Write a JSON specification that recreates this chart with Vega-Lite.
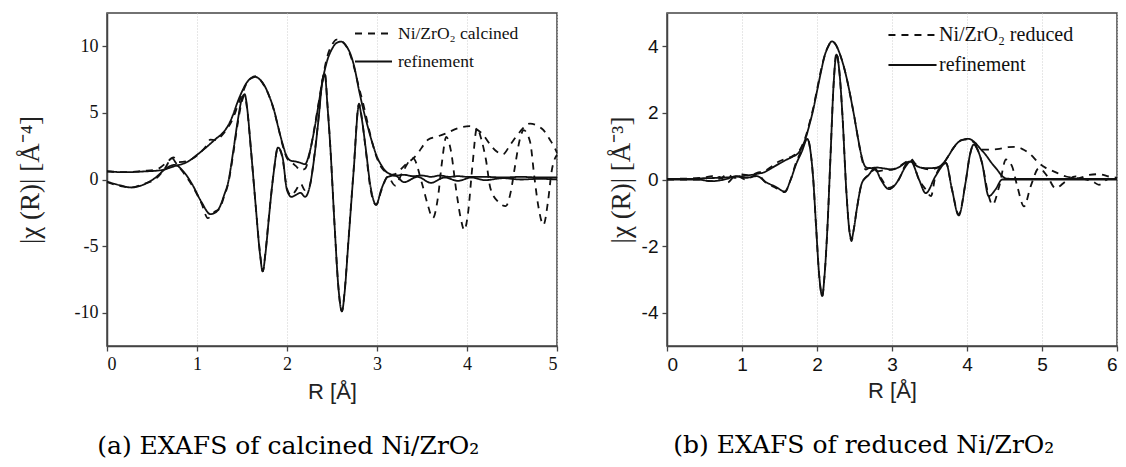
{
  "$schema": "https://vega.github.io/schema/vega-lite/v6.json",
  "background": "white",
  "padding": {"left": 15, "top": 12, "right": 0, "bottom": 4},
  "spacing": 44,
  "resolve": {"scale": {"strokeDash": "independent"}, "legend": {"strokeDash": "independent"}},
  "config": {
    "view": {"stroke": "#444", "strokeWidth": 1.5},
    "axis": {
      "domainColor": "#444", "domainWidth": 1.5, "tickColor": "#444", "tickWidth": 1.3, "tickSize": 5,
      "labelColor": "#111", "titleColor": "#222", "titleFontWeight": "normal",
      "gridColor": "#cfcfcf", "gridDash": [1, 2], "gridWidth": 1,
      "labelExpr": "toString(datum.value)"
    },
    "title": {"orient": "bottom", "frame": "bounds", "anchor": "middle", "font": "DejaVu Serif", "fontSize": 25, "fontWeight": "normal", "color": "#000", "offset": 32}
  },
  "datasets": {
    "calc": [
      {"R":0,"v":0.6,"s":"f","p":"m"},{"R":0.2,"v":0.55,"s":"f","p":"m"},{"R":0.4,"v":0.6,"s":"f","p":"m"},{"R":0.6,"v":0.7,"s":"f","p":"m"},{"R":0.75,"v":1.0,"s":"f","p":"m"},{"R":0.9,"v":1.35,"s":"f","p":"m"},{"R":1.0,"v":1.85,"s":"f","p":"m"},{"R":1.1,"v":2.4,"s":"f","p":"m"},{"R":1.2,"v":3.0,"s":"f","p":"m"},{"R":1.3,"v":3.6,"s":"f","p":"m"},{"R":1.35,"v":4.1,"s":"f","p":"m"},{"R":1.4,"v":4.85,"s":"f","p":"m"},{"R":1.45,"v":5.8,"s":"f","p":"m"},{"R":1.5,"v":6.6,"s":"f","p":"m"},{"R":1.55,"v":7.25,"s":"f","p":"m"},{"R":1.6,"v":7.6,"s":"f","p":"m"},{"R":1.65,"v":7.7,"s":"f","p":"m"},{"R":1.7,"v":7.5,"s":"f","p":"m"},{"R":1.75,"v":7.05,"s":"f","p":"m"},{"R":1.8,"v":6.3,"s":"f","p":"m"},{"R":1.85,"v":5.35,"s":"f","p":"m"},{"R":1.9,"v":4.0,"s":"f","p":"m"},{"R":1.95,"v":2.7,"s":"f","p":"m"},{"R":2.0,"v":1.7,"s":"f","p":"m"},{"R":2.05,"v":1.4,"s":"f","p":"m"},{"R":2.1,"v":1.35,"s":"f","p":"m"},{"R":2.15,"v":1.25,"s":"f","p":"m"},{"R":2.2,"v":1.15,"s":"f","p":"m"},{"R":2.25,"v":2.0,"s":"f","p":"m"},{"R":2.3,"v":3.6,"s":"f","p":"m"},{"R":2.35,"v":5.6,"s":"f","p":"m"},{"R":2.4,"v":7.6,"s":"f","p":"m"},{"R":2.45,"v":9.0,"s":"f","p":"m"},{"R":2.5,"v":9.8,"s":"f","p":"m"},{"R":2.55,"v":10.25,"s":"f","p":"m"},{"R":2.6,"v":10.35,"s":"f","p":"m"},{"R":2.65,"v":10.1,"s":"f","p":"m"},{"R":2.7,"v":9.5,"s":"f","p":"m"},{"R":2.75,"v":8.4,"s":"f","p":"m"},{"R":2.8,"v":6.7,"s":"f","p":"m"},{"R":2.85,"v":5.2,"s":"f","p":"m"},{"R":2.9,"v":3.9,"s":"f","p":"m"},{"R":2.95,"v":2.7,"s":"f","p":"m"},{"R":3.0,"v":1.7,"s":"f","p":"m"},{"R":3.05,"v":1.05,"s":"f","p":"m"},{"R":3.1,"v":0.6,"s":"f","p":"m"},{"R":3.15,"v":0.4,"s":"f","p":"m"},{"R":3.2,"v":0.3,"s":"f","p":"m"},{"R":3.3,"v":0.35,"s":"f","p":"m"},{"R":3.4,"v":0.25,"s":"f","p":"m"},{"R":3.5,"v":0.3,"s":"f","p":"m"},{"R":3.6,"v":0.2,"s":"f","p":"m"},{"R":3.7,"v":0.3,"s":"f","p":"m"},{"R":3.8,"v":0.2,"s":"f","p":"m"},{"R":3.9,"v":0.25,"s":"f","p":"m"},{"R":4.0,"v":0.2,"s":"f","p":"m"},{"R":4.2,"v":0.2,"s":"f","p":"m"},{"R":4.4,"v":0.15,"s":"f","p":"m"},{"R":4.6,"v":0.2,"s":"f","p":"m"},{"R":4.8,"v":0.15,"s":"f","p":"m"},{"R":5.0,"v":0.15,"s":"f","p":"m"},

      {"R":0,"v":-0.15,"s":"f","p":"i"},{"R":0.15,"v":-0.45,"s":"f","p":"i"},{"R":0.27,"v":-0.6,"s":"f","p":"i"},{"R":0.4,"v":-0.4,"s":"f","p":"i"},{"R":0.55,"v":0.2,"s":"f","p":"i"},{"R":0.65,"v":0.8,"s":"f","p":"i"},{"R":0.75,"v":1.1,"s":"f","p":"i"},{"R":0.85,"v":0.6,"s":"f","p":"i"},{"R":0.95,"v":-0.4,"s":"f","p":"i"},{"R":1.05,"v":-1.7,"s":"f","p":"i"},{"R":1.15,"v":-2.6,"s":"f","p":"i"},{"R":1.2,"v":-2.5,"s":"f","p":"i"},{"R":1.25,"v":-2.1,"s":"f","p":"i"},{"R":1.3,"v":-1.2,"s":"f","p":"i"},{"R":1.35,"v":-0.1,"s":"f","p":"i"},{"R":1.4,"v":2.0,"s":"f","p":"i"},{"R":1.45,"v":4.3,"s":"f","p":"i"},{"R":1.5,"v":6.1,"s":"f","p":"i"},{"R":1.53,"v":6.4,"s":"f","p":"i"},{"R":1.56,"v":5.2,"s":"f","p":"i"},{"R":1.6,"v":2.2,"s":"f","p":"i"},{"R":1.65,"v":-1.8,"s":"f","p":"i"},{"R":1.7,"v":-5.6,"s":"f","p":"i"},{"R":1.73,"v":-6.9,"s":"f","p":"i"},{"R":1.76,"v":-5.6,"s":"f","p":"i"},{"R":1.8,"v":-2.8,"s":"f","p":"i"},{"R":1.85,"v":0.4,"s":"f","p":"i"},{"R":1.9,"v":2.4,"s":"f","p":"i"},{"R":1.95,"v":1.7,"s":"f","p":"i"},{"R":2.0,"v":-0.8,"s":"f","p":"i"},{"R":2.05,"v":-1.3,"s":"f","p":"i"},{"R":2.1,"v":-1.15,"s":"f","p":"i"},{"R":2.15,"v":-1.0,"s":"f","p":"i"},{"R":2.2,"v":-1.3,"s":"f","p":"i"},{"R":2.25,"v":-0.6,"s":"f","p":"i"},{"R":2.3,"v":1.5,"s":"f","p":"i"},{"R":2.35,"v":4.5,"s":"f","p":"i"},{"R":2.39,"v":7.2,"s":"f","p":"i"},{"R":2.42,"v":7.9,"s":"f","p":"i"},{"R":2.45,"v":5.5,"s":"f","p":"i"},{"R":2.48,"v":2.6,"s":"f","p":"i"},{"R":2.53,"v":-3.6,"s":"f","p":"i"},{"R":2.57,"v":-8.0,"s":"f","p":"i"},{"R":2.61,"v":-9.9,"s":"f","p":"i"},{"R":2.64,"v":-8.5,"s":"f","p":"i"},{"R":2.68,"v":-4.9,"s":"f","p":"i"},{"R":2.74,"v":0.6,"s":"f","p":"i"},{"R":2.8,"v":5.6,"s":"f","p":"i"},{"R":2.83,"v":4.6,"s":"f","p":"i"},{"R":2.87,"v":2.6,"s":"f","p":"i"},{"R":2.93,"v":-0.6,"s":"f","p":"i"},{"R":2.99,"v":-1.9,"s":"f","p":"i"},{"R":3.05,"v":-0.7,"s":"f","p":"i"},{"R":3.12,"v":0.2,"s":"f","p":"i"},{"R":3.2,"v":0.3,"s":"f","p":"i"},{"R":3.3,"v":-0.2,"s":"f","p":"i"},{"R":3.45,"v":0.2,"s":"f","p":"i"},{"R":3.6,"v":-0.25,"s":"f","p":"i"},{"R":3.75,"v":0.15,"s":"f","p":"i"},{"R":3.9,"v":-0.1,"s":"f","p":"i"},{"R":4.05,"v":0.15,"s":"f","p":"i"},{"R":4.2,"v":-0.05,"s":"f","p":"i"},{"R":4.4,"v":0.1,"s":"f","p":"i"},{"R":4.6,"v":0.0,"s":"f","p":"i"},{"R":4.8,"v":0.05,"s":"f","p":"i"},{"R":5.0,"v":0.0,"s":"f","p":"i"},

      {"R":0,"v":0.62,"s":"d","p":"m"},{"R":0.2,"v":0.55,"s":"d","p":"m"},{"R":0.4,"v":0.65,"s":"d","p":"m"},{"R":0.55,"v":0.75,"s":"d","p":"m"},{"R":0.65,"v":1.2,"s":"d","p":"m"},{"R":0.74,"v":1.65,"s":"d","p":"m"},{"R":0.8,"v":1.3,"s":"d","p":"m"},{"R":0.9,"v":1.4,"s":"d","p":"m"},{"R":1.0,"v":1.8,"s":"d","p":"m"},{"R":1.1,"v":2.5,"s":"d","p":"m"},{"R":1.15,"v":3.0,"s":"d","p":"m"},{"R":1.2,"v":2.95,"s":"d","p":"m"},{"R":1.3,"v":3.5,"s":"d","p":"m"},{"R":1.4,"v":4.6,"s":"d","p":"m"},{"R":1.45,"v":5.5,"s":"d","p":"m"},{"R":1.5,"v":6.4,"s":"d","p":"m"},{"R":1.55,"v":7.2,"s":"d","p":"m"},{"R":1.6,"v":7.6,"s":"d","p":"m"},{"R":1.65,"v":7.75,"s":"d","p":"m"},{"R":1.7,"v":7.5,"s":"d","p":"m"},{"R":1.75,"v":7.0,"s":"d","p":"m"},{"R":1.8,"v":6.3,"s":"d","p":"m"},{"R":1.85,"v":5.3,"s":"d","p":"m"},{"R":1.9,"v":4.0,"s":"d","p":"m"},{"R":1.95,"v":2.6,"s":"d","p":"m"},{"R":2.0,"v":1.6,"s":"d","p":"m"},{"R":2.05,"v":1.3,"s":"d","p":"m"},{"R":2.1,"v":1.0,"s":"d","p":"m"},{"R":2.15,"v":0.7,"s":"d","p":"m"},{"R":2.2,"v":0.8,"s":"d","p":"m"},{"R":2.25,"v":1.9,"s":"d","p":"m"},{"R":2.3,"v":3.7,"s":"d","p":"m"},{"R":2.35,"v":5.7,"s":"d","p":"m"},{"R":2.4,"v":7.7,"s":"d","p":"m"},{"R":2.45,"v":9.3,"s":"d","p":"m"},{"R":2.5,"v":10.1,"s":"d","p":"m"},{"R":2.55,"v":10.5,"s":"d","p":"m"},{"R":2.6,"v":10.4,"s":"d","p":"m"},{"R":2.65,"v":10.1,"s":"d","p":"m"},{"R":2.7,"v":9.4,"s":"d","p":"m"},{"R":2.75,"v":8.3,"s":"d","p":"m"},{"R":2.8,"v":6.9,"s":"d","p":"m"},{"R":2.85,"v":5.6,"s":"d","p":"m"},{"R":2.9,"v":4.1,"s":"d","p":"m"},{"R":2.95,"v":2.7,"s":"d","p":"m"},{"R":3.0,"v":1.6,"s":"d","p":"m"},{"R":3.05,"v":0.9,"s":"d","p":"m"},{"R":3.1,"v":0.55,"s":"d","p":"m"},{"R":3.15,"v":0.35,"s":"d","p":"m"},{"R":3.2,"v":0.4,"s":"d","p":"m"},{"R":3.3,"v":1.0,"s":"d","p":"m"},{"R":3.44,"v":1.85,"s":"d","p":"m"},{"R":3.57,"v":3.0,"s":"d","p":"m"},{"R":3.66,"v":3.2,"s":"d","p":"m"},{"R":3.76,"v":3.45,"s":"d","p":"m"},{"R":3.92,"v":3.9,"s":"d","p":"m"},{"R":4.03,"v":4.0,"s":"d","p":"m"},{"R":4.1,"v":3.8,"s":"d","p":"m"},{"R":4.18,"v":3.35,"s":"d","p":"m"},{"R":4.26,"v":2.6,"s":"d","p":"m"},{"R":4.33,"v":2.1,"s":"d","p":"m"},{"R":4.4,"v":1.9,"s":"d","p":"m"},{"R":4.48,"v":2.6,"s":"d","p":"m"},{"R":4.59,"v":3.6,"s":"d","p":"m"},{"R":4.7,"v":4.2,"s":"d","p":"m"},{"R":4.78,"v":4.05,"s":"d","p":"m"},{"R":4.85,"v":3.7,"s":"d","p":"m"},{"R":4.92,"v":3.0,"s":"d","p":"m"},{"R":4.98,"v":2.3,"s":"d","p":"m"},{"R":5.0,"v":2.0,"s":"d","p":"m"},

      {"R":0,"v":-0.2,"s":"d","p":"i"},{"R":0.15,"v":-0.5,"s":"d","p":"i"},{"R":0.27,"v":-0.6,"s":"d","p":"i"},{"R":0.4,"v":-0.35,"s":"d","p":"i"},{"R":0.55,"v":0.1,"s":"d","p":"i"},{"R":0.65,"v":0.9,"s":"d","p":"i"},{"R":0.72,"v":1.6,"s":"d","p":"i"},{"R":0.78,"v":1.1,"s":"d","p":"i"},{"R":0.85,"v":0.5,"s":"d","p":"i"},{"R":0.95,"v":-0.5,"s":"d","p":"i"},{"R":1.05,"v":-1.8,"s":"d","p":"i"},{"R":1.12,"v":-2.9,"s":"d","p":"i"},{"R":1.2,"v":-2.4,"s":"d","p":"i"},{"R":1.25,"v":-2.2,"s":"d","p":"i"},{"R":1.3,"v":-1.3,"s":"d","p":"i"},{"R":1.35,"v":-0.2,"s":"d","p":"i"},{"R":1.4,"v":1.8,"s":"d","p":"i"},{"R":1.45,"v":4.1,"s":"d","p":"i"},{"R":1.5,"v":5.9,"s":"d","p":"i"},{"R":1.53,"v":6.3,"s":"d","p":"i"},{"R":1.56,"v":5.1,"s":"d","p":"i"},{"R":1.6,"v":2.2,"s":"d","p":"i"},{"R":1.65,"v":-1.8,"s":"d","p":"i"},{"R":1.7,"v":-5.5,"s":"d","p":"i"},{"R":1.73,"v":-6.9,"s":"d","p":"i"},{"R":1.76,"v":-5.5,"s":"d","p":"i"},{"R":1.8,"v":-2.7,"s":"d","p":"i"},{"R":1.85,"v":0.4,"s":"d","p":"i"},{"R":1.9,"v":2.4,"s":"d","p":"i"},{"R":1.95,"v":1.6,"s":"d","p":"i"},{"R":2.0,"v":-0.7,"s":"d","p":"i"},{"R":2.05,"v":-1.2,"s":"d","p":"i"},{"R":2.1,"v":-0.8,"s":"d","p":"i"},{"R":2.15,"v":-0.3,"s":"d","p":"i"},{"R":2.2,"v":-0.8,"s":"d","p":"i"},{"R":2.25,"v":-0.5,"s":"d","p":"i"},{"R":2.3,"v":1.6,"s":"d","p":"i"},{"R":2.35,"v":4.6,"s":"d","p":"i"},{"R":2.39,"v":7.3,"s":"d","p":"i"},{"R":2.42,"v":8.0,"s":"d","p":"i"},{"R":2.45,"v":5.6,"s":"d","p":"i"},{"R":2.48,"v":2.6,"s":"d","p":"i"},{"R":2.53,"v":-3.6,"s":"d","p":"i"},{"R":2.57,"v":-8.0,"s":"d","p":"i"},{"R":2.61,"v":-9.9,"s":"d","p":"i"},{"R":2.64,"v":-8.4,"s":"d","p":"i"},{"R":2.68,"v":-4.8,"s":"d","p":"i"},{"R":2.74,"v":0.7,"s":"d","p":"i"},{"R":2.8,"v":5.7,"s":"d","p":"i"},{"R":2.83,"v":4.7,"s":"d","p":"i"},{"R":2.87,"v":2.5,"s":"d","p":"i"},{"R":2.93,"v":-0.8,"s":"d","p":"i"},{"R":2.99,"v":-1.9,"s":"d","p":"i"},{"R":3.05,"v":-0.8,"s":"d","p":"i"},{"R":3.12,"v":0.2,"s":"d","p":"i"},{"R":3.2,"v":-0.45,"s":"d","p":"i"},{"R":3.28,"v":0.5,"s":"d","p":"i"},{"R":3.4,"v":1.6,"s":"d","p":"i"},{"R":3.5,"v":-0.3,"s":"d","p":"i"},{"R":3.56,"v":-1.8,"s":"d","p":"i"},{"R":3.62,"v":-2.9,"s":"d","p":"i"},{"R":3.68,"v":-1.2,"s":"d","p":"i"},{"R":3.72,"v":1.2,"s":"d","p":"i"},{"R":3.77,"v":3.2,"s":"d","p":"i"},{"R":3.82,"v":2.2,"s":"d","p":"i"},{"R":3.88,"v":-0.8,"s":"d","p":"i"},{"R":3.93,"v":-2.9,"s":"d","p":"i"},{"R":3.97,"v":-3.8,"s":"d","p":"i"},{"R":4.01,"v":-2.6,"s":"d","p":"i"},{"R":4.06,"v":1.0,"s":"d","p":"i"},{"R":4.11,"v":3.85,"s":"d","p":"i"},{"R":4.16,"v":3.0,"s":"d","p":"i"},{"R":4.21,"v":1.5,"s":"d","p":"i"},{"R":4.26,"v":-0.65,"s":"d","p":"i"},{"R":4.35,"v":-1.7,"s":"d","p":"i"},{"R":4.43,"v":-2.0,"s":"d","p":"i"},{"R":4.49,"v":-0.8,"s":"d","p":"i"},{"R":4.53,"v":0.85,"s":"d","p":"i"},{"R":4.59,"v":3.1,"s":"d","p":"i"},{"R":4.63,"v":3.7,"s":"d","p":"i"},{"R":4.7,"v":2.85,"s":"d","p":"i"},{"R":4.75,"v":0.1,"s":"d","p":"i"},{"R":4.79,"v":-1.9,"s":"d","p":"i"},{"R":4.85,"v":-3.4,"s":"d","p":"i"},{"R":4.9,"v":-1.65,"s":"d","p":"i"},{"R":4.94,"v":0.6,"s":"d","p":"i"},{"R":5.0,"v":1.85,"s":"d","p":"i"}
    ],
    "red": [
      {"R":0,"v":0.02,"s":"f","p":"m"},{"R":0.3,"v":0.02,"s":"f","p":"m"},{"R":0.5,"v":0.04,"s":"f","p":"m"},{"R":0.7,"v":0.05,"s":"f","p":"m"},{"R":0.9,"v":0.08,"s":"f","p":"m"},{"R":1.0,"v":0.1,"s":"f","p":"m"},{"R":1.1,"v":0.13,"s":"f","p":"m"},{"R":1.2,"v":0.17,"s":"f","p":"m"},{"R":1.3,"v":0.22,"s":"f","p":"m"},{"R":1.4,"v":0.35,"s":"f","p":"m"},{"R":1.5,"v":0.48,"s":"f","p":"m"},{"R":1.58,"v":0.58,"s":"f","p":"m"},{"R":1.67,"v":0.68,"s":"f","p":"m"},{"R":1.76,"v":0.82,"s":"f","p":"m"},{"R":1.85,"v":1.25,"s":"f","p":"m"},{"R":1.9,"v":1.65,"s":"f","p":"m"},{"R":1.95,"v":2.1,"s":"f","p":"m"},{"R":2.0,"v":2.65,"s":"f","p":"m"},{"R":2.05,"v":3.2,"s":"f","p":"m"},{"R":2.1,"v":3.7,"s":"f","p":"m"},{"R":2.15,"v":4.0,"s":"f","p":"m"},{"R":2.2,"v":4.15,"s":"f","p":"m"},{"R":2.25,"v":4.05,"s":"f","p":"m"},{"R":2.3,"v":3.8,"s":"f","p":"m"},{"R":2.35,"v":3.45,"s":"f","p":"m"},{"R":2.4,"v":3.0,"s":"f","p":"m"},{"R":2.45,"v":2.45,"s":"f","p":"m"},{"R":2.5,"v":1.85,"s":"f","p":"m"},{"R":2.55,"v":1.2,"s":"f","p":"m"},{"R":2.6,"v":0.65,"s":"f","p":"m"},{"R":2.65,"v":0.37,"s":"f","p":"m"},{"R":2.7,"v":0.34,"s":"f","p":"m"},{"R":2.8,"v":0.36,"s":"f","p":"m"},{"R":2.9,"v":0.33,"s":"f","p":"m"},{"R":3.0,"v":0.3,"s":"f","p":"m"},{"R":3.1,"v":0.38,"s":"f","p":"m"},{"R":3.18,"v":0.5,"s":"f","p":"m"},{"R":3.25,"v":0.54,"s":"f","p":"m"},{"R":3.32,"v":0.42,"s":"f","p":"m"},{"R":3.4,"v":0.35,"s":"f","p":"m"},{"R":3.5,"v":0.34,"s":"f","p":"m"},{"R":3.6,"v":0.36,"s":"f","p":"m"},{"R":3.68,"v":0.48,"s":"f","p":"m"},{"R":3.75,"v":0.7,"s":"f","p":"m"},{"R":3.82,"v":0.95,"s":"f","p":"m"},{"R":3.9,"v":1.15,"s":"f","p":"m"},{"R":3.97,"v":1.21,"s":"f","p":"m"},{"R":4.02,"v":1.22,"s":"f","p":"m"},{"R":4.1,"v":1.12,"s":"f","p":"m"},{"R":4.18,"v":0.92,"s":"f","p":"m"},{"R":4.25,"v":0.74,"s":"f","p":"m"},{"R":4.32,"v":0.52,"s":"f","p":"m"},{"R":4.4,"v":0.3,"s":"f","p":"m"},{"R":4.47,"v":0.1,"s":"f","p":"m"},{"R":4.52,"v":0.03,"s":"f","p":"m"},{"R":4.6,"v":0.02,"s":"f","p":"m"},{"R":5.0,"v":0.02,"s":"f","p":"m"},{"R":6.0,"v":0.02,"s":"f","p":"m"},

      {"R":0,"v":0,"s":"f","p":"i"},{"R":0.4,"v":0,"s":"f","p":"i"},{"R":0.6,"v":-0.05,"s":"f","p":"i"},{"R":0.8,"v":0.02,"s":"f","p":"i"},{"R":0.92,"v":0.1,"s":"f","p":"i"},{"R":1.05,"v":0.05,"s":"f","p":"i"},{"R":1.2,"v":0.1,"s":"f","p":"i"},{"R":1.32,"v":-0.08,"s":"f","p":"i"},{"R":1.45,"v":-0.22,"s":"f","p":"i"},{"R":1.57,"v":-0.36,"s":"f","p":"i"},{"R":1.65,"v":0.0,"s":"f","p":"i"},{"R":1.72,"v":0.45,"s":"f","p":"i"},{"R":1.8,"v":0.85,"s":"f","p":"i"},{"R":1.87,"v":1.22,"s":"f","p":"i"},{"R":1.91,"v":0.9,"s":"f","p":"i"},{"R":1.95,"v":0.0,"s":"f","p":"i"},{"R":1.99,"v":-1.5,"s":"f","p":"i"},{"R":2.03,"v":-2.9,"s":"f","p":"i"},{"R":2.07,"v":-3.5,"s":"f","p":"i"},{"R":2.1,"v":-2.9,"s":"f","p":"i"},{"R":2.14,"v":-1.4,"s":"f","p":"i"},{"R":2.18,"v":0.7,"s":"f","p":"i"},{"R":2.22,"v":2.8,"s":"f","p":"i"},{"R":2.26,"v":3.75,"s":"f","p":"i"},{"R":2.3,"v":3.2,"s":"f","p":"i"},{"R":2.34,"v":1.9,"s":"f","p":"i"},{"R":2.39,"v":-0.3,"s":"f","p":"i"},{"R":2.43,"v":-1.5,"s":"f","p":"i"},{"R":2.46,"v":-1.8,"s":"f","p":"i"},{"R":2.49,"v":-1.5,"s":"f","p":"i"},{"R":2.53,"v":-0.9,"s":"f","p":"i"},{"R":2.6,"v":-0.1,"s":"f","p":"i"},{"R":2.69,"v":0.14,"s":"f","p":"i"},{"R":2.77,"v":0.34,"s":"f","p":"i"},{"R":2.85,"v":0.0,"s":"f","p":"i"},{"R":2.96,"v":-0.29,"s":"f","p":"i"},{"R":3.09,"v":0.0,"s":"f","p":"i"},{"R":3.17,"v":0.35,"s":"f","p":"i"},{"R":3.25,"v":0.54,"s":"f","p":"i"},{"R":3.36,"v":0.0,"s":"f","p":"i"},{"R":3.45,"v":-0.41,"s":"f","p":"i"},{"R":3.58,"v":0.1,"s":"f","p":"i"},{"R":3.72,"v":0.49,"s":"f","p":"i"},{"R":3.8,"v":-0.3,"s":"f","p":"i"},{"R":3.89,"v":-1.08,"s":"f","p":"i"},{"R":3.98,"v":-0.1,"s":"f","p":"i"},{"R":4.04,"v":0.75,"s":"f","p":"i"},{"R":4.09,"v":1.05,"s":"f","p":"i"},{"R":4.15,"v":0.85,"s":"f","p":"i"},{"R":4.2,"v":0.5,"s":"f","p":"i"},{"R":4.29,"v":-0.5,"s":"f","p":"i"},{"R":4.38,"v":-0.3,"s":"f","p":"i"},{"R":4.47,"v":0.0,"s":"f","p":"i"},{"R":5.0,"v":0.0,"s":"f","p":"i"},{"R":6.0,"v":0.0,"s":"f","p":"i"},

      {"R":0,"v":0.02,"s":"d","p":"m"},{"R":0.3,"v":0.03,"s":"d","p":"m"},{"R":0.5,"v":0.06,"s":"d","p":"m"},{"R":0.6,"v":0.1,"s":"d","p":"m"},{"R":0.7,"v":0.02,"s":"d","p":"m"},{"R":0.8,"v":0.15,"s":"d","p":"m"},{"R":0.9,"v":0.05,"s":"d","p":"m"},{"R":1.0,"v":0.15,"s":"d","p":"m"},{"R":1.1,"v":0.12,"s":"d","p":"m"},{"R":1.2,"v":0.2,"s":"d","p":"m"},{"R":1.3,"v":0.25,"s":"d","p":"m"},{"R":1.4,"v":0.4,"s":"d","p":"m"},{"R":1.5,"v":0.55,"s":"d","p":"m"},{"R":1.58,"v":0.62,"s":"d","p":"m"},{"R":1.67,"v":0.7,"s":"d","p":"m"},{"R":1.76,"v":0.85,"s":"d","p":"m"},{"R":1.85,"v":1.3,"s":"d","p":"m"},{"R":1.9,"v":1.7,"s":"d","p":"m"},{"R":1.95,"v":2.15,"s":"d","p":"m"},{"R":2.0,"v":2.7,"s":"d","p":"m"},{"R":2.05,"v":3.25,"s":"d","p":"m"},{"R":2.1,"v":3.7,"s":"d","p":"m"},{"R":2.15,"v":4.0,"s":"d","p":"m"},{"R":2.2,"v":4.15,"s":"d","p":"m"},{"R":2.25,"v":4.05,"s":"d","p":"m"},{"R":2.3,"v":3.8,"s":"d","p":"m"},{"R":2.35,"v":3.45,"s":"d","p":"m"},{"R":2.4,"v":3.0,"s":"d","p":"m"},{"R":2.45,"v":2.45,"s":"d","p":"m"},{"R":2.5,"v":1.85,"s":"d","p":"m"},{"R":2.55,"v":1.2,"s":"d","p":"m"},{"R":2.6,"v":0.6,"s":"d","p":"m"},{"R":2.65,"v":0.3,"s":"d","p":"m"},{"R":2.7,"v":0.35,"s":"d","p":"m"},{"R":2.8,"v":0.25,"s":"d","p":"m"},{"R":2.9,"v":0.28,"s":"d","p":"m"},{"R":3.0,"v":0.3,"s":"d","p":"m"},{"R":3.1,"v":0.4,"s":"d","p":"m"},{"R":3.2,"v":0.55,"s":"d","p":"m"},{"R":3.25,"v":0.62,"s":"d","p":"m"},{"R":3.32,"v":0.45,"s":"d","p":"m"},{"R":3.4,"v":0.35,"s":"d","p":"m"},{"R":3.5,"v":0.3,"s":"d","p":"m"},{"R":3.6,"v":0.35,"s":"d","p":"m"},{"R":3.68,"v":0.45,"s":"d","p":"m"},{"R":3.75,"v":0.7,"s":"d","p":"m"},{"R":3.82,"v":0.95,"s":"d","p":"m"},{"R":3.9,"v":1.15,"s":"d","p":"m"},{"R":3.97,"v":1.2,"s":"d","p":"m"},{"R":4.02,"v":1.2,"s":"d","p":"m"},{"R":4.1,"v":1.1,"s":"d","p":"m"},{"R":4.2,"v":0.9,"s":"d","p":"m"},{"R":4.3,"v":0.9,"s":"d","p":"m"},{"R":4.43,"v":0.92,"s":"d","p":"m"},{"R":4.55,"v":0.97,"s":"d","p":"m"},{"R":4.65,"v":0.98,"s":"d","p":"m"},{"R":4.75,"v":0.9,"s":"d","p":"m"},{"R":4.83,"v":0.79,"s":"d","p":"m"},{"R":4.96,"v":0.49,"s":"d","p":"m"},{"R":5.05,"v":0.35,"s":"d","p":"m"},{"R":5.14,"v":0.26,"s":"d","p":"m"},{"R":5.32,"v":0.09,"s":"d","p":"m"},{"R":5.49,"v":0.04,"s":"d","p":"m"},{"R":5.63,"v":0.14,"s":"d","p":"m"},{"R":5.76,"v":0.16,"s":"d","p":"m"},{"R":5.89,"v":0.09,"s":"d","p":"m"},{"R":6.0,"v":0.05,"s":"d","p":"m"},

      {"R":0,"v":0,"s":"d","p":"i"},{"R":0.4,"v":0,"s":"d","p":"i"},{"R":0.6,"v":-0.05,"s":"d","p":"i"},{"R":0.7,"v":0.08,"s":"d","p":"i"},{"R":0.8,"v":-0.1,"s":"d","p":"i"},{"R":0.92,"v":0.12,"s":"d","p":"i"},{"R":1.05,"v":0.0,"s":"d","p":"i"},{"R":1.2,"v":0.15,"s":"d","p":"i"},{"R":1.32,"v":-0.1,"s":"d","p":"i"},{"R":1.45,"v":-0.25,"s":"d","p":"i"},{"R":1.57,"v":-0.38,"s":"d","p":"i"},{"R":1.65,"v":0.0,"s":"d","p":"i"},{"R":1.72,"v":0.5,"s":"d","p":"i"},{"R":1.8,"v":0.9,"s":"d","p":"i"},{"R":1.87,"v":1.25,"s":"d","p":"i"},{"R":1.91,"v":0.9,"s":"d","p":"i"},{"R":1.95,"v":0.0,"s":"d","p":"i"},{"R":1.99,"v":-1.5,"s":"d","p":"i"},{"R":2.03,"v":-2.9,"s":"d","p":"i"},{"R":2.07,"v":-3.5,"s":"d","p":"i"},{"R":2.1,"v":-2.9,"s":"d","p":"i"},{"R":2.14,"v":-1.4,"s":"d","p":"i"},{"R":2.18,"v":0.7,"s":"d","p":"i"},{"R":2.22,"v":2.8,"s":"d","p":"i"},{"R":2.26,"v":3.8,"s":"d","p":"i"},{"R":2.3,"v":3.2,"s":"d","p":"i"},{"R":2.34,"v":1.9,"s":"d","p":"i"},{"R":2.39,"v":-0.3,"s":"d","p":"i"},{"R":2.43,"v":-1.5,"s":"d","p":"i"},{"R":2.46,"v":-1.85,"s":"d","p":"i"},{"R":2.49,"v":-1.5,"s":"d","p":"i"},{"R":2.53,"v":-0.9,"s":"d","p":"i"},{"R":2.6,"v":-0.1,"s":"d","p":"i"},{"R":2.69,"v":0.14,"s":"d","p":"i"},{"R":2.77,"v":0.3,"s":"d","p":"i"},{"R":2.85,"v":0.05,"s":"d","p":"i"},{"R":2.96,"v":-0.25,"s":"d","p":"i"},{"R":3.09,"v":0.0,"s":"d","p":"i"},{"R":3.17,"v":0.4,"s":"d","p":"i"},{"R":3.25,"v":0.6,"s":"d","p":"i"},{"R":3.36,"v":0.0,"s":"d","p":"i"},{"R":3.45,"v":-0.3,"s":"d","p":"i"},{"R":3.52,"v":-0.5,"s":"d","p":"i"},{"R":3.58,"v":0.1,"s":"d","p":"i"},{"R":3.72,"v":0.5,"s":"d","p":"i"},{"R":3.8,"v":-0.3,"s":"d","p":"i"},{"R":3.89,"v":-1.05,"s":"d","p":"i"},{"R":3.98,"v":-0.1,"s":"d","p":"i"},{"R":4.04,"v":0.75,"s":"d","p":"i"},{"R":4.09,"v":1.05,"s":"d","p":"i"},{"R":4.15,"v":0.85,"s":"d","p":"i"},{"R":4.2,"v":0.5,"s":"d","p":"i"},{"R":4.29,"v":-0.5,"s":"d","p":"i"},{"R":4.34,"v":-0.76,"s":"d","p":"i"},{"R":4.43,"v":-0.2,"s":"d","p":"i"},{"R":4.52,"v":0.6,"s":"d","p":"i"},{"R":4.6,"v":0.4,"s":"d","p":"i"},{"R":4.67,"v":-0.2,"s":"d","p":"i"},{"R":4.76,"v":-0.81,"s":"d","p":"i"},{"R":4.85,"v":-0.2,"s":"d","p":"i"},{"R":4.96,"v":0.34,"s":"d","p":"i"},{"R":5.07,"v":0.1,"s":"d","p":"i"},{"R":5.18,"v":-0.26,"s":"d","p":"i"},{"R":5.32,"v":-0.05,"s":"d","p":"i"},{"R":5.45,"v":0.09,"s":"d","p":"i"},{"R":5.58,"v":0.0,"s":"d","p":"i"},{"R":5.67,"v":-0.05,"s":"d","p":"i"},{"R":5.76,"v":-0.16,"s":"d","p":"i"},{"R":5.89,"v":0.02,"s":"d","p":"i"},{"R":6.0,"v":0.0,"s":"d","p":"i"}
    ]
  },
  "hconcat": [
    {
      "width": 450, "height": 333,
      "data": {"name": "calc"},
      "title": {"text": "(a) EXAFS of calcined Ni/ZrO₂"},
      "mark": {"type": "line", "interpolate": "monotone", "strokeWidth": 1.8, "color": "#111"},
      "encoding": {
        "x": {"field": "R", "type": "quantitative", "scale": {"domain": [0, 5], "nice": false, "zero": false},
          "axis": {"title": "R [Å]", "values": [0, 1, 2, 3, 4, 5], "grid": true, "labelFont": "Liberation Serif", "labelFontSize": 18, "labelPadding": 4, "titleFont": "Liberation Sans", "titleFontSize": 22, "titlePadding": 8}},
        "y": {"field": "v", "type": "quantitative", "scale": {"domain": [-12.5, 12.5], "nice": false, "zero": false},
          "axis": {"title": "|χ (R)| [Å⁻⁴]", "values": [-10, -5, 0, 5, 10], "grid": false, "labelFont": "Liberation Serif", "labelFontSize": 18, "labelPadding": 4, "titleFont": "Liberation Serif", "titleFontSize": 27, "titlePadding": 30}},
        "strokeDash": {"field": "s", "type": "nominal", "scale": {"domain": ["d", "f"], "range": [[7, 6], [1, 0]]},
          "legend": {"title": null, "orient": "none", "legendX": 247, "legendY": 1, "symbolType": "stroke", "symbolSize": 1369, "symbolStrokeWidth": 1.8, "symbolStrokeColor": "#111", "labelFont": "Liberation Serif", "labelFontSize": 17.5, "labelColor": "#111", "labelOffset": 5, "rowPadding": -11, "labelExpr": "datum.value == 'd' ? 'Ni/ZrO₂ calcined' : 'refinement'"}},
        "detail": {"field": "p", "type": "nominal"}
      }
    },
    {
      "width": 450, "height": 333,
      "data": {"name": "red"},
      "title": {"text": "(b) EXAFS of reduced Ni/ZrO₂"},
      "mark": {"type": "line", "interpolate": "monotone", "strokeWidth": 1.8, "color": "#111"},
      "encoding": {
        "x": {"field": "R", "type": "quantitative", "scale": {"domain": [0, 6], "nice": false, "zero": false},
          "axis": {"title": "R [Å]", "values": [0, 1, 2, 3, 4, 5, 6], "grid": true, "labelFont": "Liberation Sans", "labelFontSize": 19, "labelPadding": 4, "titleFont": "Liberation Sans", "titleFontSize": 22, "titlePadding": 6}},
        "y": {"field": "v", "type": "quantitative", "scale": {"domain": [-5, 5], "nice": false, "zero": false},
          "axis": {"title": "|χ (R)| [Å⁻³]", "values": [-4, -2, 0, 2, 4], "grid": false, "labelFont": "Liberation Sans", "labelFontSize": 19, "labelPadding": 4, "titleFont": "Liberation Serif", "titleFontSize": 27, "titlePadding": 6}},
        "strokeDash": {"field": "s", "type": "nominal", "scale": {"domain": ["d", "f"], "range": [[7, 6], [1, 0]]},
          "legend": {"title": null, "orient": "none", "legendX": 226, "legendY": 2.5, "symbolType": "M-1.3,0H1.3", "symbolSize": 1369, "symbolStrokeWidth": 1.8, "symbolStrokeColor": "#111", "labelFont": "Liberation Serif", "labelFontSize": 20, "labelColor": "#111", "labelOffset": 7, "rowPadding": -5, "labelExpr": "datum.value == 'd' ? 'Ni/ZrO₂ reduced' : 'refinement'"}},
        "detail": {"field": "p", "type": "nominal"}
      }
    }
  ]
}
